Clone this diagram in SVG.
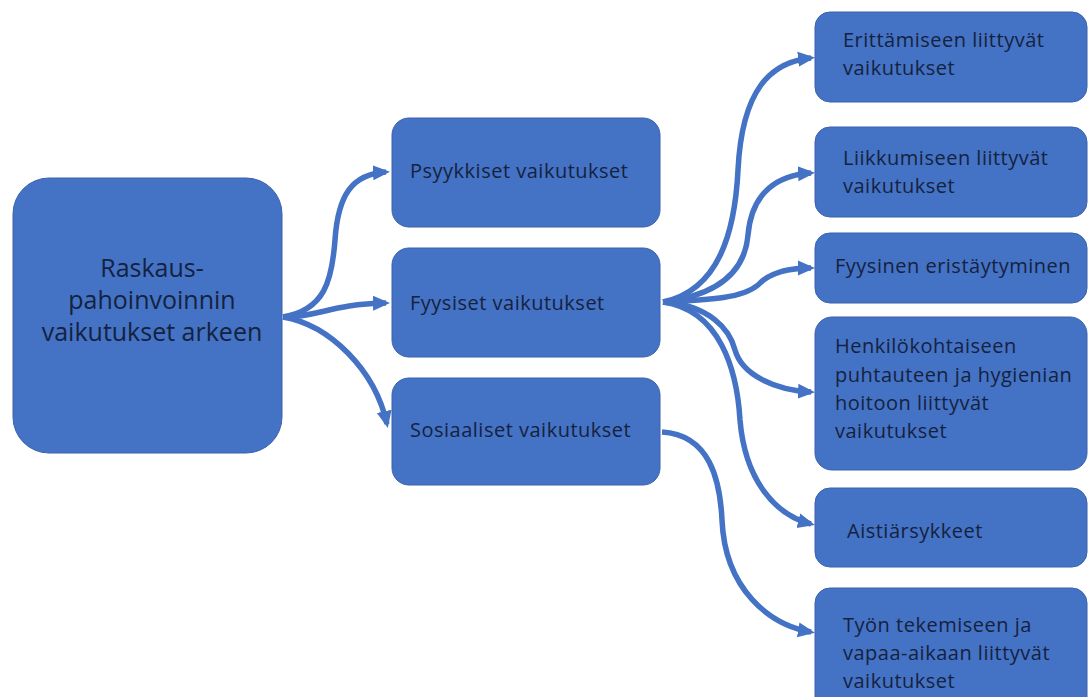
<svg xmlns="http://www.w3.org/2000/svg" width="1089" height="697" viewBox="0 0 1089 697">
<style>
.box{fill:#4472C4;stroke:#3A63AD;stroke-width:1}
.t{font-family:"Open Sans","Noto Sans",sans-serif;font-size:20px;letter-spacing:0.5px;fill:#15223F}
.big{font-family:"Open Sans","Noto Sans",sans-serif;font-size:25px;fill:#15223F;text-anchor:middle}
.c{fill:none;stroke:#4472C4;stroke-width:5.5;marker-end:url(#ah)}
</style>
<defs>
<marker id="ah" markerUnits="userSpaceOnUse" markerWidth="18" markerHeight="18" refX="13" refY="9" orient="auto">
<path d="M0,1.5 L17,9 L0,16.5 z" fill="#4472C4"/>
</marker>
</defs>
<rect width="1089" height="697" fill="#ffffff"/>
<g id="connectors">
<path class="c" d="M283,317 C325,310 332,280 335,240 C338,195 352,174 386,172"/>
<path class="c" d="M283,317 C320,317 330,304 386,303"/>
<path class="c" d="M283,317 C330,325 375,370 387,424"/>
<path class="c" d="M663,302 C720,290 735,230 738,170 C742,90 770,62 811,58"/>
<path class="c" d="M663,302 C720,295 745,270 748,235 C752,190 780,175 811,173"/>
<path class="c" d="M663,302 C700,300 740,300 758,285 C770,272 790,268 811,268"/>
<path class="c" d="M663,302 C710,305 730,330 735,350 C742,375 775,390 811,392"/>
<path class="c" d="M663,302 C720,310 737,370 740,420 C745,480 775,515 811,524"/>
<path class="c" d="M662,432 C710,435 720,480 722,520 C725,590 770,625 811,632"/>
</g>
<g id="n-root">
<rect class="box" x="13" y="178" width="269" height="275" rx="36"/>
<text class="big" x="152" y="277">Raskaus-</text>
<text class="big" x="152" y="309">pahoinvoinnin</text>
<text class="big" x="152" y="341">vaikutukset arkeen</text>
</g>
<g id="n-psyykkiset">
<rect class="box" x="392" y="118" width="268" height="109" rx="17"/>
<text class="t" x="410" y="178">Psyykkiset vaikutukset</text>
</g>
<g id="n-fyysiset">
<rect class="box" x="392" y="248" width="268" height="109" rx="17"/>
<text class="t" x="410" y="310">Fyysiset vaikutukset</text>
</g>
<g id="n-sosiaaliset">
<rect class="box" x="392" y="378" width="268" height="107" rx="17"/>
<text class="t" x="410" y="437">Sosiaaliset vaikutukset</text>
</g>
<g id="n-erittaminen">
<rect class="box" x="815" y="12" width="272" height="90" rx="15"/>
<text class="t" x="843" y="47">Erittämiseen liittyvät</text>
<text class="t" x="843" y="75">vaikutukset</text>
</g>
<g id="n-liikkuminen">
<rect class="box" x="815" y="127" width="272" height="90" rx="15"/>
<text class="t" x="843" y="165">Liikkumiseen liittyvät</text>
<text class="t" x="843" y="193">vaikutukset</text>
</g>
<g id="n-eristaytyminen">
<rect class="box" x="815" y="233" width="272" height="70" rx="15"/>
<text class="t" x="835" y="273">Fyysinen eristäytyminen</text>
</g>
<g id="n-hygienia">
<rect class="box" x="815" y="317" width="272" height="153" rx="17"/>
<text class="t" x="835" y="353">Henkilökohtaiseen</text>
<text class="t" x="835" y="382">puhtauteen ja hygienian</text>
<text class="t" x="835" y="410">hoitoon liittyvät</text>
<text class="t" x="835" y="438">vaikutukset</text>
</g>
<g id="n-aistiarsykkeet">
<rect class="box" x="815" y="488" width="272" height="79" rx="15"/>
<text class="t" x="847" y="538">Aistiärsykkeet</text>
</g>
<g id="n-tyo">
<rect class="box" x="815" y="588" width="272" height="125" rx="15"/>
<text class="t" x="843" y="632">Työn tekemiseen ja</text>
<text class="t" x="843" y="660">vapaa-aikaan liittyvät</text>
<text class="t" x="843" y="688">vaikutukset</text>
</g>
</svg>
